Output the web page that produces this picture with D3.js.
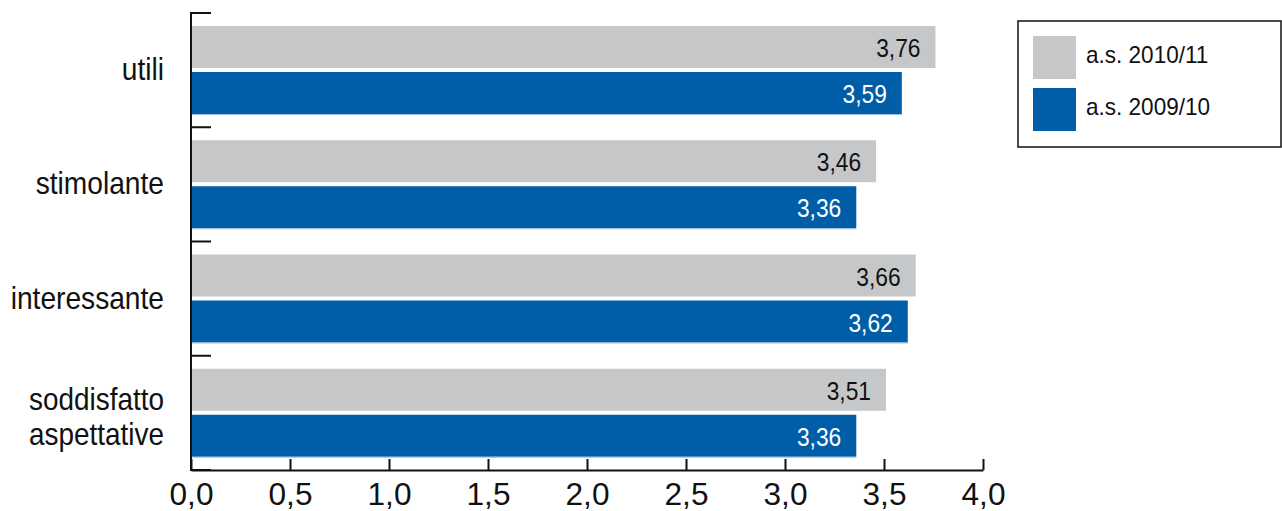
<!DOCTYPE html>
<html><head><meta charset="utf-8">
<script src="https://cdn.jsdelivr.net/npm/d3@7"></script>
<style>
body{margin:0;background:#fff;}
text{font-family:"Liberation Sans",Arial,Helvetica,sans-serif;}
</style></head>
<body><svg id="c" width="1282" height="511"></svg>
<script>
const categories = ["utili","stimolante","interessante","soddisfatto aspettative"];
const series2010 = [3.76,3.46,3.66,3.51];
const series2009 = [3.59,3.36,3.62,3.36];
const seriesNames = ["a.s. 2010/11","a.s. 2009/10"];
const xTicks = [0,0.5,1,1.5,2,2.5,3,3.5,4];

const colors = ["#c6c7c9","#005ea8"];
const svg = d3.select("#c");
const x = d3.scaleLinear().domain([0,4]).range([191,983]);
const y = d3.scaleBand().domain(categories).range([13,470]);
const fmt = v => d3.format(".2f")(v).replace(".",",");

function addText(parent, tx, ty, str, size, sx, anchor, fill){
  return parent.append("g").attr("transform",`translate(${tx},${ty}) scale(${sx},1)`)
    .append("text").attr("text-anchor",anchor).attr("font-size",size).attr("fill",fill).text(str);
}

const data = categories.map((c,i)=>({c, vals:[series2010[i], series2009[i]]}));
const g = svg.append("g");
data.forEach(d=>{
  d.vals.forEach((v,j)=>{
    const y0 = y(d.c) + 13 + j*46;
    g.append("rect").attr("x",x(0)).attr("y",y0).attr("width",x(v)-x(0)).attr("height",42).attr("fill",colors[j]);
    if(j===1) g.append("line").attr("x1",x(0)).attr("x2",x(v)).attr("y1",y0+42.5).attr("y2",y0+42.5).attr("stroke","#9cc0e0").attr("stroke-width",1);
    addText(g, x(v)-15, y0+31, fmt(v), 26.5, 0.86, "end", j===0?"#111":"#fff");
  });
  const words = d.c.split(" ");
  const n = words.length;
  const cy = y(d.c)+y.bandwidth()/2;
  if(n===1){
    addText(g, 164, cy+10, words[0], 32, 0.88, "end", "#111");
  } else {
    words.forEach((w,k)=>{
      addText(g, 164, cy - 3 + k*35, w, 31, 0.9, "end", "#111");
    });
  }
});

// x axis
const xa = svg.append("g").attr("transform","translate(0,470)")
  .call(d3.axisBottom(x).tickValues(xTicks).tickSizeInner(-11).tickSizeOuter(0).tickPadding(13).tickFormat(v=>d3.format(".1f")(v).replace(".",",")));
xa.selectAll("text").attr("font-size",31).attr("fill","#111").attr("transform","scale(1.02,1)");
xa.select(".domain").attr("stroke","#111").attr("stroke-width",2);
xa.selectAll(".tick line").attr("stroke","#111").attr("stroke-width",2);

// y axis
const yTicks = categories.map(c=>y(c)).concat([470]);
const ya = svg.append("g");
ya.append("line").attr("x1",191).attr("x2",191).attr("y1",12).attr("y2",471).attr("stroke","#111").attr("stroke-width",2);
ya.selectAll("line.t").data(yTicks).join("line").attr("class","t")
  .attr("x1",190).attr("x2",211).attr("y1",d=>d).attr("y2",d=>d).attr("stroke","#111").attr("stroke-width",2);

// legend
const lg = svg.append("g");
lg.append("rect").attr("x",1018).attr("y",21).attr("width",263).attr("height",126).attr("fill","none").attr("stroke","#111").attr("stroke-width",1.5);
seriesNames.forEach((n,i)=>{
  lg.append("rect").attr("x",1033).attr("y",36+i*52).attr("width",43).attr("height",43).attr("fill",colors[i]);
  addText(lg, 1086, 63+i*52, n, 23, 0.98, "start", "#111");
});
</script></body></html>
